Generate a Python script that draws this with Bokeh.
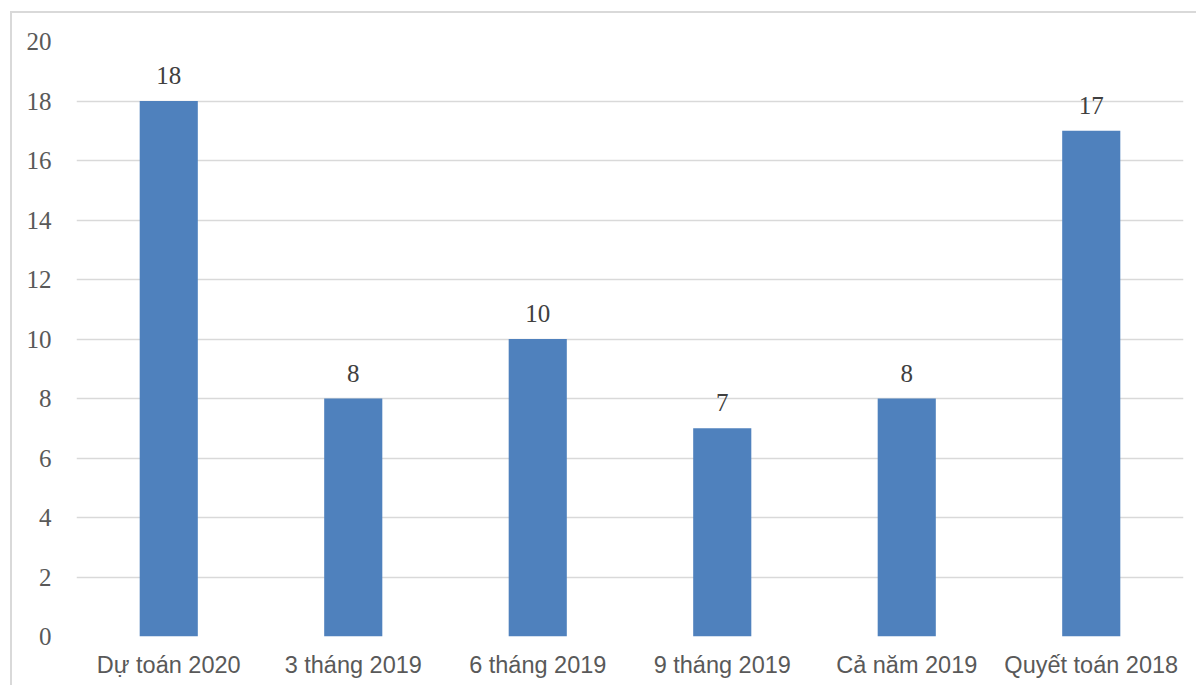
from bokeh.plotting import figure
from bokeh.models import ColumnDataSource, FixedTicker
from bokeh.core.properties import value
from bokeh.embed import file_html
from bokeh.resources import INLINE

categories = ["Dự toán 2020", "3 tháng 2019", "6 tháng 2019",
              "9 tháng 2019", "Cả năm 2019", "Quyết toán 2018"]
values = [18, 8, 10, 7, 8, 17]
y_ticks = [0, 2, 4, 6, 8, 10, 12, 14, 16, 18, 20]

source = ColumnDataSource(dict(cat=categories, val=values,
                               lbl=[str(v) for v in values]))

p = figure(x_range=categories, y_range=(0, 20),
           width=1186, height=674,
           min_border_left=64, min_border_right=15,
           min_border_top=28, min_border_bottom=51,
           output_backend="svg", toolbar_location=None,
           background_fill_color="white", border_fill_color="white",
           styles={"margin-left": "10px", "margin-top": "11px",
                   "border-left": "2px solid #d9d9d9",
                   "border-top": "2px solid #d9d9d9"})
p.outline_line_color = None

p.vbar(x="cat", top="val", width=0.315, source=source,
       fill_color="#4F81BD", line_color=None)

p.text(x="cat", y="val", text="lbl", source=source,
       text_align="center", text_baseline="bottom", y_offset=-17,
       text_font=value("Liberation Serif"), text_font_size="25px",
       text_color="#404040")

p.xgrid.grid_line_color = None
p.ygrid.grid_line_color = "#d9d9d9"
p.ygrid.grid_line_width = 1.5

p.yaxis.ticker = FixedTicker(ticks=y_ticks)
p.yaxis.axis_line_color = None
p.yaxis.major_tick_line_color = None
p.yaxis.minor_tick_line_color = None
p.yaxis.major_label_standoff = 19
p.yaxis.major_label_text_font = "Liberation Serif"
p.yaxis.major_label_text_font_size = "25px"
p.yaxis.major_label_text_color = "#595959"

p.xaxis.axis_line_color = None
p.xaxis.major_tick_line_color = None
p.xaxis.minor_tick_line_color = None
p.xaxis.major_label_standoff = 9
p.xaxis.major_label_text_font = "Liberation Sans"
p.xaxis.major_label_text_font_size = "23.5px"
p.xaxis.major_label_text_color = "#595959"

open("out.html", "w").write(file_html(p, INLINE))
